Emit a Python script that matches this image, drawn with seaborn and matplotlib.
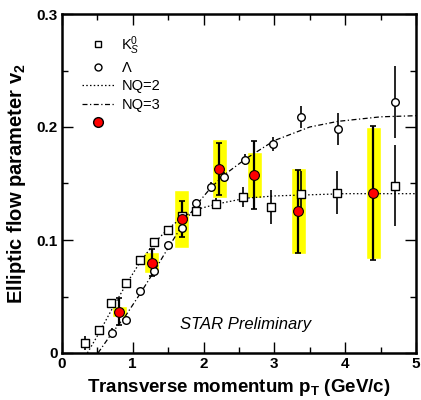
import matplotlib
matplotlib.use('Agg')
import matplotlib.pyplot as plt
import seaborn as sns
import numpy as np
import pandas as pd
from matplotlib.lines import Line2D

# K0s points
k0s_pt = [0.32, 0.52, 0.70, 0.90, 1.10, 1.30, 1.50, 1.70, 1.89, 2.17, 2.56, 2.95, 3.37, 3.89, 4.70]
k0s_v2 = [0.009, 0.020, 0.044, 0.062, 0.082, 0.098, 0.109, 0.121, 0.126, 0.132, 0.138, 0.129, 0.141, 0.142, 0.148]
k0s_err = [0.006, 0.003, 0.002, 0.002, 0.002, 0.002, 0.002, 0.003, 0.003, 0.005, 0.0085, 0.015, 0.02, 0.019, 0.036]

# Lambda points
lam_pt = [0.71, 0.91, 1.10, 1.30, 1.50, 1.70, 1.89, 2.10, 2.29, 2.58, 2.98, 3.38, 3.90, 4.70]
lam_v2 = [0.018, 0.029, 0.055, 0.073, 0.096, 0.111, 0.133, 0.147, 0.156, 0.171, 0.185, 0.209, 0.198, 0.222]
lam_err = [0.004, 0.003, 0.002, 0.002, 0.002, 0.002, 0.003, 0.004, 0.004, 0.005, 0.006, 0.010, 0.014, 0.032]

# red points with stat and sys errors
red_pt = [0.81, 1.27, 1.69, 2.22, 2.72, 3.34, 4.40]
red_v2 = [0.0366, 0.080, 0.1186, 0.163, 0.1575, 0.1254, 0.1416]
red_stat = [0.012, 0.012, 0.016, 0.023, 0.030, 0.0366, 0.0596]
red_sys = [0.0047, 0.0094, 0.026, 0.026, 0.0204, 0.038, 0.0584]

# NQ fit curves
nq2_pt = [0.36, 0.5, 0.7, 0.9, 1.1, 1.3, 1.5, 1.7, 1.9, 2.2, 2.6, 3.0, 3.5, 4.0, 5.0]
nq2_v2 = [0.0, 0.015, 0.038, 0.060, 0.080, 0.097, 0.110, 0.120, 0.127, 0.132, 0.137, 0.139, 0.140, 0.141, 0.141]
nq3_pt = [0.51, 0.7, 0.9, 1.1, 1.3, 1.5, 1.7, 1.9, 2.1, 2.3, 2.6, 3.0, 3.5, 3.9, 4.5, 5.0]
nq3_v2 = [0.0, 0.017, 0.033, 0.052, 0.072, 0.093, 0.113, 0.131, 0.146, 0.158, 0.172, 0.188, 0.200, 0.205, 0.209, 0.210]

sns.set_style('ticks')
plt.rcParams['font.family'] = ['Liberation Sans', 'DejaVu Sans']
plt.rcParams['mathtext.fontset'] = 'custom'
plt.rcParams['mathtext.rm'] = 'Liberation Sans'
plt.rcParams['mathtext.it'] = 'Liberation Sans:italic'
plt.rcParams['mathtext.bf'] = 'Liberation Sans:bold'
for key in ['axes.edgecolor', 'text.color', 'axes.labelcolor', 'xtick.color', 'ytick.color']:
    plt.rcParams[key] = 'black'

fig = plt.figure(figsize=(4.21, 4.00), dpi=100)
ax = fig.add_axes([0.147, 0.1175, 0.841, 0.8475])

# yellow systematic boxes
ax.bar(red_pt, [2 * s for s in red_sys], bottom=[v - s for v, s in zip(red_v2, red_sys)],
       width=0.21, color='#ffff00', zorder=1)

# curves
dot2 = (0, (1.2, 1.8))
dash3 = (0, (4, 2, 1, 2))
sns.lineplot(x=nq2_pt, y=nq2_v2, ax=ax, color='black', lw=0.9, linestyle=dot2, zorder=2)
sns.lineplot(x=nq3_pt, y=nq3_v2, ax=ax, color='black', lw=0.9, linestyle=dash3, zorder=2)

# error bars
ax.errorbar(k0s_pt, k0s_v2, yerr=k0s_err, fmt='none', ecolor='black', elinewidth=1.2, zorder=3)
ax.errorbar(lam_pt, lam_v2, yerr=lam_err, fmt='none', ecolor='black', elinewidth=1.2, zorder=3)
ax.errorbar(red_pt, red_v2, yerr=red_stat, fmt='none', ecolor='black', elinewidth=1.6,
            capsize=2, capthick=1.2, zorder=4)

sns.scatterplot(x=k0s_pt, y=k0s_v2, ax=ax, marker='s', s=28, facecolor='white',
                edgecolor='black', linewidth=1.0, zorder=5)
sns.scatterplot(x=lam_pt, y=lam_v2, ax=ax, marker='o', s=30, facecolor='white',
                edgecolor='black', linewidth=1.0, zorder=5)
sns.scatterplot(x=red_pt, y=red_v2, ax=ax, marker='o', s=50, facecolor='red',
                edgecolor='black', linewidth=0.8, zorder=6)

ax.set_xlim(0, 5)
ax.set_ylim(0, 0.3)
ax.set_xticks([0, 1, 2, 3, 4, 5])
ax.set_xticklabels(['0', '1', '2', '3', '4', '5'])
ax.set_yticks([0, 0.1, 0.2, 0.3])
ax.set_yticklabels(['0', '0.1', '0.2', '0.3'])
ax.set_xticks(np.arange(0, 5.01, 0.5), minor=True)
ax.set_yticks(np.arange(0, 0.301, 0.05), minor=True)
ax.tick_params(which='both', direction='in', top=True, right=True, width=1.0)
ax.tick_params(which='major', length=8, labelsize=11, pad=3)
ax.tick_params(which='minor', length=4)
for lab in ax.get_xticklabels() + ax.get_yticklabels():
    lab.set_fontweight('bold')
for sp in ax.spines.values():
    sp.set_linewidth(1.8)

ax.set_xlabel(r'Transverse momentum p$_\mathbf{T}$ (GeV/c)', fontsize=13.5, fontweight='bold', labelpad=4)
ax.set_ylabel(r'Elliptic flow parameter v$_\mathbf{2}$', fontsize=14.5, fontweight='bold', labelpad=6)

ax.text(2.6, 0.025, 'STAR Preliminary', fontsize=12, style='italic', ha='center', va='center')

handles = [
    Line2D([], [], marker='s', color='none', markerfacecolor='white', markeredgecolor='black', markersize=5),
    Line2D([], [], marker='o', color='none', markerfacecolor='white', markeredgecolor='black', markersize=5),
    Line2D([], [], color='black', lw=0.9, linestyle=dot2),
    Line2D([], [], color='black', lw=0.9, linestyle=dash3),
    Line2D([], [], marker='o', color='none', markerfacecolor='red', markeredgecolor='black', markersize=7),
]
labels = [r'K$^0_S$', r'$\Lambda$', 'NQ=2', 'NQ=3', ' ']
ax.legend(handles, labels, loc='upper left', bbox_to_anchor=(0.02, 0.98), frameon=False,
          fontsize=10.5, handlelength=2.2, labelspacing=0.3, handletextpad=0.5)

fig.savefig('out.png', dpi=100)
